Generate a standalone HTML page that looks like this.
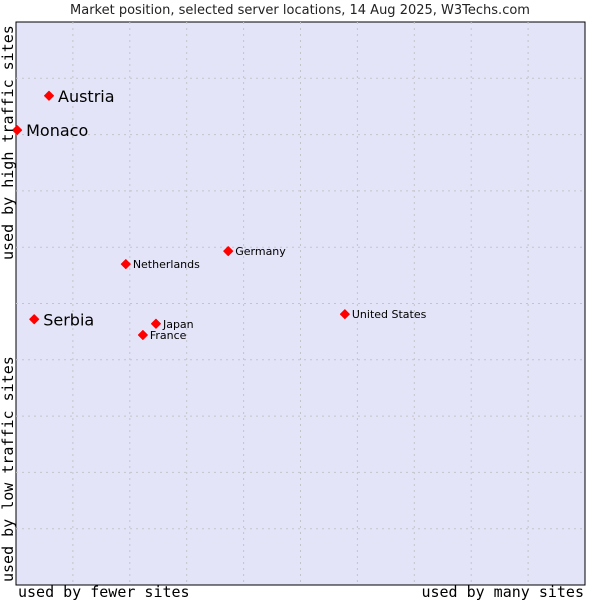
<!DOCTYPE html>
<html><head><meta charset="utf-8"><style>body{margin:0;background:#fff}svg{display:block}</style></head>
<body>
<svg id="chart" width="600" height="600" xmlns="http://www.w3.org/2000/svg" font-family="DejaVu Sans, sans-serif">
<text x="300" y="14" text-anchor="middle" font-size="13" fill="#222">Market position, selected server locations, 14 Aug 2025, W3Techs.com</text>
<rect x="16" y="22" width="569" height="563" fill="#e4e4f8" stroke="#000" stroke-width="1"/>
<g id="grid"></g>
<g id="points"></g>
<text x="18" y="597" font-family="DejaVu Sans Mono, monospace" font-size="15" fill="#000">used by fewer sites</text>
<text x="584" y="597" text-anchor="end" font-family="DejaVu Sans Mono, monospace" font-size="15" fill="#000">used by many sites</text>
<text transform="translate(13,582) rotate(-90)" font-family="DejaVu Sans Mono, monospace" font-size="15" fill="#000">used by low traffic sites</text>
<text transform="translate(13,260) rotate(-90)" font-family="DejaVu Sans Mono, monospace" font-size="15" fill="#000">used by high traffic sites</text>
</svg>
<script>
const names = ["Austria","Monaco","Serbia","Netherlands","Germany","Japan","France","United States"];
const xValues = [5.8,0.2,3.2,19.3,37.3,24.6,22.3,57.8];
const yValues = [86.9,80.8,47.2,57.0,59.3,46.4,44.4,48.1];
const highlighted = [true,true,true,false,false,false,false,false];
const L=16,T=22,W=569,H=563;
const NS="http://www.w3.org/2000/svg";
function xs(v){return L+v/100*W;}
function ys(v){return T+H-v/100*H;}
const grid=document.getElementById('grid');
for(let i=1;i<10;i++){
  const gx=document.createElementNS(NS,'line');
  
  
  gx.setAttribute('x1',xs(i*10));gx.setAttribute('x2',xs(i*10));gx.setAttribute('y1',T);gx.setAttribute('y2',T+H);
  gx.setAttribute('stroke','#c4c4c8');gx.setAttribute('stroke-dasharray','2,4');
  grid.appendChild(gx);
  const gy=document.createElementNS(NS,'line');
  
  
  gy.setAttribute('y1',ys(i*10));gy.setAttribute('y2',ys(i*10));gy.setAttribute('x1',L);gy.setAttribute('x2',L+W);
  gy.setAttribute('stroke','#c4c4c8');gy.setAttribute('stroke-dasharray','2,4');
  grid.appendChild(gy);
}
const pts=document.getElementById('points');
names.forEach((n,i)=>{
  const cx=xs(xValues[i]),cy=ys(yValues[i]);
  const d=document.createElementNS(NS,'path');
  
  
  d.setAttribute('d',`M${cx-4.5},${cy} L${cx},${cy-4.5} L${cx+4.5},${cy} L${cx},${cy+4.5} Z`);
  d.setAttribute('fill','#f00');d.setAttribute('stroke','#f00');d.setAttribute('stroke-linejoin','round');
  pts.appendChild(d);
  const t=document.createElementNS(NS,'text');
  
  
  const big=highlighted[i];
  t.setAttribute('x',cx+(big?9:7));t.setAttribute('y',cy+(big?6:4));
  t.setAttribute('font-size',big?16:11);t.setAttribute('fill','#000');
  t.textContent=n;
  pts.appendChild(t);
});
</script>
</body></html>
